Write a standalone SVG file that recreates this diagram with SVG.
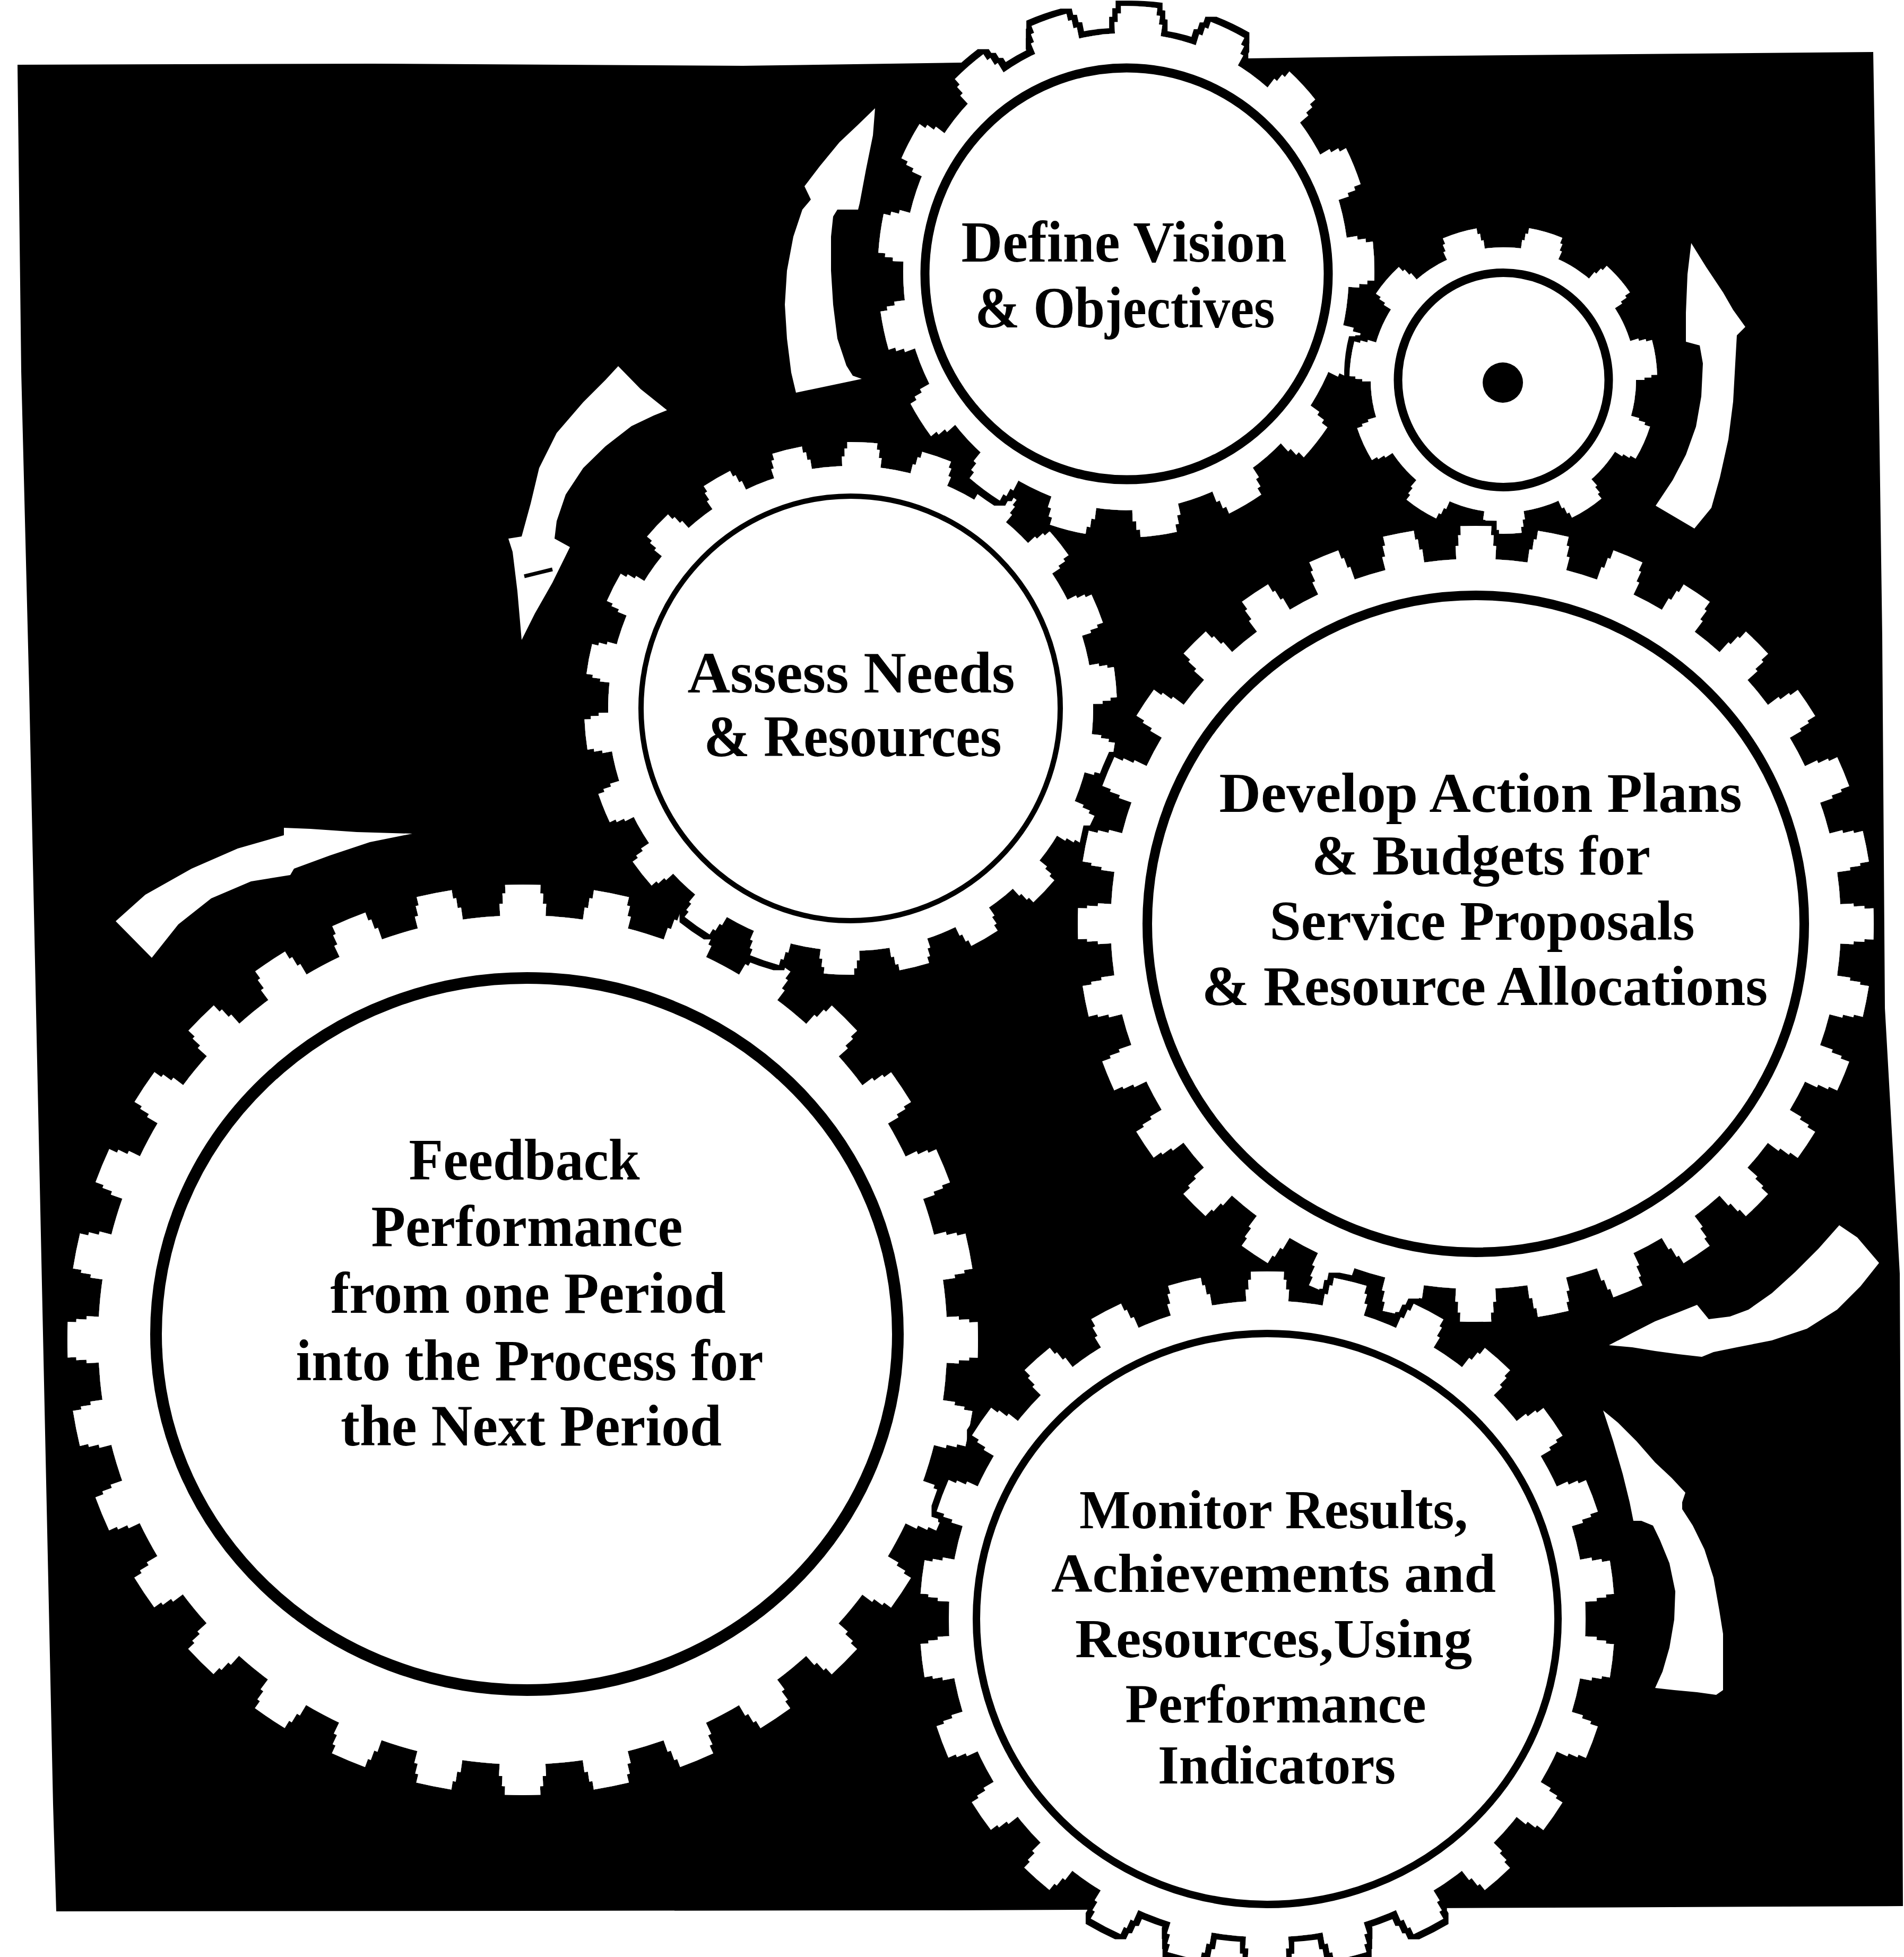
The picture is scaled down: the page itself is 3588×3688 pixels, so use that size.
<svg xmlns="http://www.w3.org/2000/svg" width="3588" height="3688" viewBox="0 0 3588 3688">
<style>
.bg{fill:#000}
.arrow{fill:#fff}
.base{fill:#fff}
.teeth{fill:none;stroke:#fff}
.ring{fill:#fff;stroke:#000}
.label{font-family:"Liberation Serif","Times New Roman",serif;font-weight:bold;fill:#000;text-anchor:middle}
</style>
<defs>
<filter id="halo" x="-5%" y="-5%" width="110%" height="110%">
<feMorphology in="SourceAlpha" operator="dilate" radius="10" result="d"/>
<feFlood flood-color="#000"/>
<feComposite in2="d" operator="in" result="o"/>
<feMerge><feMergeNode in="o"/><feMergeNode in="SourceGraphic"/></feMerge>
</filter>
</defs>
<rect width="3588" height="3688" fill="#fff"/>
<path class="bg" d="M33,122 L700,120 L1400,124 L2630,106 L3530,98 L3540,700 L3547,1200 L3552,1900 L3580,2400 L3586,3592 L1800,3600 L106,3602 L100,3400 L70,2000 L55,1300 L40,700 Z"/>
<g id="arrows">
<path class="arrow" d="M1649,204 L1645,255 L1632,319 L1620,383 L1617,395 L1578,395 L1570,408 L1566,446 L1566,510 L1570,574 L1578,638 L1595,689 L1607,708 L1624,714 L1500,740 L1491,702 L1483,638 L1479,574 L1483,510 L1495,446 L1512,395 L1528,376 L1516,351 L1545,313 L1582,268 L1616,236 Z"/>
<path class="arrow" d="M3187,458 L3215,503 L3247,551 L3266,584 L3289,616 L3273,632 L3270,685 L3266,757 L3257,828 L3241,900 L3225,957 L3193,996 L3120,953 L3152,905 L3177,857 L3196,804 L3206,747 L3209,685 L3203,651 L3177,644 L3177,589 L3180,517 Z"/>
<path class="arrow" d="M1165,690 L1207,733 L1257,773 L1232,783 L1190,803 L1141,841 L1099,882 L1066,932 L1049,982 L1045,1015 L1074,1031 L1041,1098 L1008,1156 L983,1206 L975,1114 L966,1040 L958,1015 L983,1011 L1000,949 L1016,882 L1049,816 L1099,758 L1141,716 Z"/>
<path d="M988,1086 L1041,1073" stroke="#000" stroke-width="7" fill="none"/>
<path class="arrow" d="M218,1736 L274,1686 L361,1637 L448,1599 L535,1574 L535,1560 L585,1562 L672,1568 L777,1571 L697,1587 L622,1612 L554,1637 L547,1649 L473,1661 L398,1693 L336,1742 L286,1805 Z"/>
<path class="arrow" d="M3032,2535 L3076,2512 L3119,2490 L3163,2473 L3198,2459 L3220,2486 L3260,2481 L3295,2468 L3339,2437 L3383,2397 L3427,2353 L3466,2309 L3500,2332 L3541,2380 L3506,2424 L3462,2468 L3405,2504 L3339,2526 L3273,2539 L3229,2548 L3207,2557 L3163,2552 L3119,2546 L3076,2539 Z"/>
<path class="arrow" d="M3021,2658 L3049,2681 L3084,2716 L3119,2756 L3150,2785 L3176,2813 L3170,2831 L3170,2844 L3190,2875 L3212,2920 L3229,2973 L3240,3035 L3247,3079 L3247,3185 L3234,3194 L3198,3189 L3155,3185 L3119,3181 L3133,3150 L3146,3105 L3155,3052 L3157,2999 L3146,2946 L3128,2902 L3115,2875 L3093,2866 L3078,2866 L3071,2831 L3058,2778 L3040,2716 L3027,2676 Z"/>
</g>
<g id="gear-feedback" filter="url(#halo)">
<g transform="translate(985,2525) rotate(-90)">
<circle class="base" r="800"/>
<circle class="teeth" r="809" stroke-width="28" stroke-dasharray="87.4 71.45" stroke-dashoffset="43.7"/>
<circle class="teeth" r="831" stroke-width="22" stroke-dasharray="76.7 86.47" stroke-dashoffset="38.35"/>
<circle class="teeth" r="848.5" stroke-width="19" stroke-dasharray="66.6 100.0" stroke-dashoffset="33.3"/>
</g>
<ellipse class="ring" cx="993" cy="2514" rx="699" ry="671" stroke-width="22"/>
<text class="label" font-size="110" x="988" y="2223" textLength="435" lengthAdjust="spacingAndGlyphs">Feedback</text>
<text class="label" font-size="110" x="993" y="2348" textLength="587" lengthAdjust="spacingAndGlyphs">Performance</text>
<text class="label" font-size="110" x="995" y="2474" textLength="745" lengthAdjust="spacingAndGlyphs">from one Period</text>
<text class="label" font-size="110" x="998" y="2601" textLength="881" lengthAdjust="spacingAndGlyphs">into the Process for</text>
<text class="label" font-size="110" x="1001" y="2724" textLength="718" lengthAdjust="spacingAndGlyphs">the Next Period</text>
</g>
<g id="gear-assess" filter="url(#halo)">
<g transform="translate(1603,1335) rotate(-87.5)">
<circle class="base" r="457"/>
<circle class="teeth" r="463.5" stroke-width="23" stroke-dasharray="74.1 58.28" stroke-dashoffset="37.05"/>
<circle class="teeth" r="481" stroke-width="18" stroke-dasharray="65.9 71.47" stroke-dashoffset="32.95"/>
<circle class="teeth" r="494.5" stroke-width="15" stroke-dasharray="56.5 84.73" stroke-dashoffset="28.25"/>
</g>
<ellipse class="ring" cx="1603" cy="1335" rx="395" ry="400" stroke-width="10"/>
<text class="label" font-size="110" x="1604" y="1305" textLength="617" lengthAdjust="spacingAndGlyphs">Assess Needs</text>
<text class="label" font-size="110" x="1607" y="1425" textLength="561" lengthAdjust="spacingAndGlyphs">&amp; Resources</text>
</g>
<g id="gear-define" filter="url(#halo)">
<g transform="translate(2122,512) scale(1,1.07) rotate(-87)">
<circle class="base" r="420"/>
<circle class="teeth" r="427.5" stroke-width="25" stroke-dasharray="88.5 69.51" stroke-dashoffset="44.25"/>
<circle class="teeth" r="445.5" stroke-width="19" stroke-dasharray="79.0 85.66" stroke-dashoffset="39.5"/>
<circle class="teeth" r="460" stroke-width="16" stroke-dasharray="68.0 102.02" stroke-dashoffset="34.0"/>
</g>
<ellipse class="ring" cx="2123" cy="516" rx="380" ry="388" stroke-width="17"/>
<text class="label" font-size="110" x="2118" y="493" textLength="613" lengthAdjust="spacingAndGlyphs">Define Vision</text>
<text class="label" font-size="110" x="2120" y="617" textLength="565" lengthAdjust="spacingAndGlyphs">&amp; Objectives</text>
</g>
<g id="gear-small" filter="url(#halo)">
<g transform="translate(2833,716) rotate(-74)">
<circle class="base" r="250"/>
<circle class="teeth" r="255.5" stroke-width="21" stroke-dasharray="75.9 70.04" stroke-dashoffset="37.95"/>
<circle class="teeth" r="271" stroke-width="16" stroke-dasharray="71.2 83.59" stroke-dashoffset="35.6"/>
<circle class="teeth" r="283" stroke-width="14" stroke-dasharray="64.7 96.95" stroke-dashoffset="32.35"/>
</g>
<ellipse class="ring" cx="2833" cy="716" rx="198.5" ry="202" stroke-width="16"/>
<circle cx="2832" cy="721" r="38" fill="#000"/>
</g>
<g id="gear-develop" filter="url(#halo)">
<g transform="translate(2781,1741) rotate(-90)">
<circle class="base" r="688"/>
<circle class="teeth" r="698" stroke-width="30" stroke-dasharray="75.4 61.65" stroke-dashoffset="37.7"/>
<circle class="teeth" r="721" stroke-width="24" stroke-dasharray="66.5 75.07" stroke-dashoffset="33.25"/>
<circle class="teeth" r="739.5" stroke-width="21" stroke-dasharray="58.1 87.1" stroke-dashoffset="29.05"/>
</g>
<circle class="ring" cx="2781" cy="1741" r="619" stroke-width="18"/>
<text class="label" font-size="106" x="2790" y="1530" textLength="985" lengthAdjust="spacingAndGlyphs">Develop Action Plans</text>
<text class="label" font-size="106" x="2791" y="1648" textLength="638" lengthAdjust="spacingAndGlyphs">&amp; Budgets for</text>
<text class="label" font-size="106" x="2793" y="1771" textLength="801" lengthAdjust="spacingAndGlyphs">Service Proposals</text>
<text class="label" font-size="106" x="2798" y="1894" textLength="1066" lengthAdjust="spacingAndGlyphs">&amp; Resource Allocations</text>
</g>
<g id="gear-monitor" filter="url(#halo)">
<g transform="translate(2388,3051) rotate(-90)">
<circle class="base" r="600"/>
<circle class="teeth" r="608.5" stroke-width="27" stroke-dasharray="80.9 66.15" stroke-dashoffset="40.45"/>
<circle class="teeth" r="629" stroke-width="22" stroke-dasharray="71.4 80.6" stroke-dashoffset="35.7"/>
<circle class="teeth" r="646" stroke-width="18" stroke-dasharray="62.4 93.72" stroke-dashoffset="31.2"/>
</g>
<ellipse class="ring" cx="2388" cy="3051" rx="548" ry="538" stroke-width="14"/>
<text class="label" font-size="104" x="2400" y="2880" textLength="732" lengthAdjust="spacingAndGlyphs">Monitor Results,</text>
<text class="label" font-size="104" x="2400" y="3000" textLength="838" lengthAdjust="spacingAndGlyphs">Achievements and</text>
<text class="label" font-size="104" x="2400" y="3123" textLength="748" lengthAdjust="spacingAndGlyphs">Resources,Using</text>
<text class="label" font-size="104" x="2404" y="3246" textLength="567" lengthAdjust="spacingAndGlyphs">Performance</text>
<text class="label" font-size="104" x="2406" y="3361" textLength="448" lengthAdjust="spacingAndGlyphs">Indicators</text>
</g>
</svg>
